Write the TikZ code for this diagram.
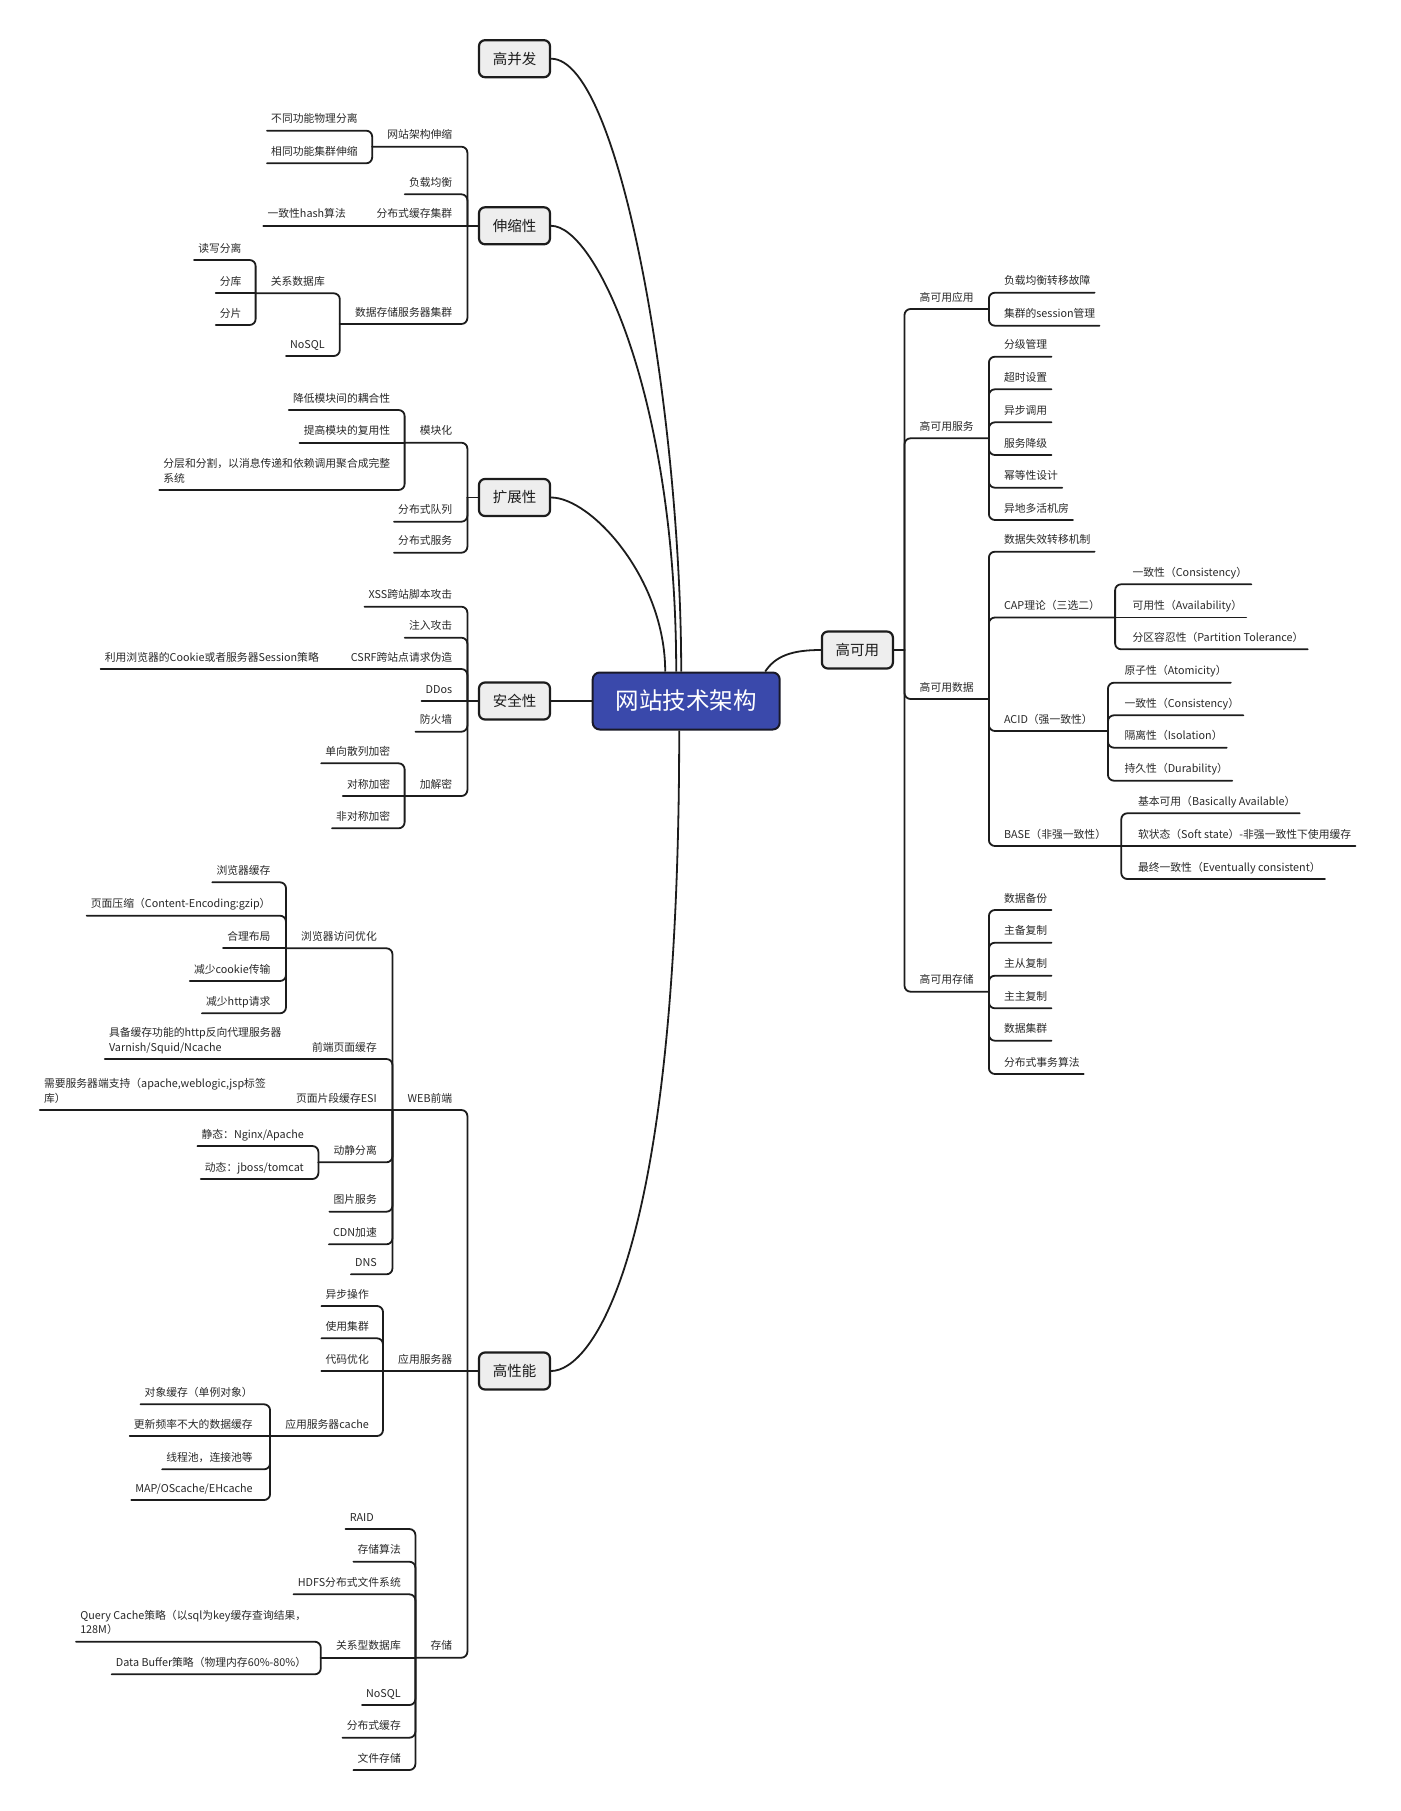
\documentclass[tikz,border=0pt]{standalone}
\usepackage{fontspec}
\setmainfont{Noto Sans CJK SC}

\definecolor{rootblue}{RGB}{58,73,171}
\definecolor{rootline}{RGB}{25,25,40}
\definecolor{topicgray}{RGB}{238,238,238}
\definecolor{inkline}{RGB}{28,28,28}
\definecolor{textgray}{RGB}{40,40,40}

\newcommand\leaffont{\fontsize{10.8}{14.5}\selectfont}

\tikzset{
  root/.style={draw=rootline, line width=2pt, fill=rootblue, text=white, rounded corners=7pt,
    minimum width=187pt, minimum height=57pt, font=\fontsize{23.5}{28}\selectfont},
  topic/.style={draw=inkline, line width=2.2pt, fill=topicgray, rounded corners=6pt,
    minimum width=71pt, minimum height=37pt, text=inkline, font=\fontsize{14.5}{17}\selectfont},
  txt/.style={inner ysep=7.6pt, text depth=0pt, text=textgray, font=\leaffont},
  leafL/.style={txt, anchor=south east, xshift=-11pt, inner xsep=4pt},
  subL/.style={txt, anchor=south east, inner xsep=15pt},
  leafR/.style={txt, anchor=south west, xshift=11pt, inner xsep=4pt},
  subR/.style={txt, anchor=south west, inner xsep=15pt},
  link/.style={draw=inkline, line width=1.8pt, rounded corners=6pt, line cap=round},
  curve/.style={draw=inkline, line width=1.8pt}
}

\begin{document}
\begin{tikzpicture}[x=1pt,y=-1pt]
\useasboundingbox (0,0) rectangle (1400,1811);

% centre and main topics
\node[root] (root) at (686.2,701) {网站技术架构};
\node[topic] (gbf) at (514.5,58.7) {高并发};
\node[topic] (ssx) at (514.5,225.8) {伸缩性};
\node[topic] (kzx) at (514.5,497.5) {扩展性};
\node[topic] (aqx) at (514.5,701) {安全性};
\node[topic] (gxn) at (514.5,1371) {高性能};
\node[topic] (gky) at (857.4,650) {高可用};

\draw[curve] (gbf.east) .. controls +(70,0) and +(0,-253) .. ([xshift=-5pt]root.north);
\draw[curve] (ssx.east) .. controls +(45,0) and +(0,-273) .. ([xshift=-10pt]root.north);
\draw[curve] (kzx.east) .. controls +(40,0) and +(0,-93) .. ([xshift=-21pt]root.north);
\draw[curve] (aqx.east) -- (root.west);
\draw[curve] (gxn.east) .. controls +(40,0) and +(0,529) .. ([xshift=-7pt]root.south);
\draw[curve] ([xshift=79pt]root.north) .. controls +(10,-15) and +(-30,0) .. (gky.west);

\coordinate (ssxJ) at (467.4,225.8);
\coordinate (kzxJ) at (467.4,497.5);
\coordinate (aqxJ) at (467.4,701);
\coordinate (gxnJ) at (467.4,1371);
\coordinate (gkyJ) at (904.5,650);
\draw[link] (ssx.west) -- (ssxJ);
\draw[link] (kzx.west) -- (kzxJ);
\draw[link] (aqx.west) -- (aqxJ);
\draw[link] (gxn.west) -- (gxnJ);
\draw[link] (gky.east) -- (gkyJ);

% 伸缩性
\node[subL] (wzjg) at (467.4,146.7) {网站架构伸缩};
\node[leafL] (fzjh) at (467.4,194.3) {负载均衡};
\node[subL] (fbhc) at (467.4,225.8) {分布式缓存集群};
\node[subL] (sjcc) at (467.4,324) {数据存储服务器集群};
\node[leafL] (btgn) at (372.8,130.7) {不同功能物理分离};
\node[leafL] (xtgn) at (372.8,163.3) {相同功能集群伸缩};
\node[leafL] (hash) at (361,225.8) {一致性hash算法};
\node[subL] (gxsjk) at (340,293.3) {关系数据库};
\node[leafL] (nosqlA) at (340,356) {NoSQL};
\node[leafL] (dxfl) at (256.7,260) {读写分离};
\node[leafL] (fk) at (256.7,293.3) {分库};
\node[leafL] (fp) at (256.7,325) {分片};
\draw[link] (ssxJ) |- (wzjg.south west);
\draw[link] (ssxJ) |- (fzjh.south west);
\draw[link] (ssxJ) -- (fbhc.south west);
\draw[link] (ssxJ) |- (sjcc.south west);
\draw[link] (wzjg.south west) |- (btgn.south west);
\draw[link] (wzjg.south west) |- (xtgn.south west);
\draw[link] (fbhc.south west) -- (hash.south west);
\draw[link] (sjcc.south west) |- (gxsjk.south west);
\draw[link] (sjcc.south west) |- (nosqlA.south west);
\draw[link] (gxsjk.south west) |- (dxfl.south west);
\draw[link] (gxsjk.south west) -- (fk.south west);
\draw[link] (gxsjk.south west) |- (fp.south west);

% 扩展性
\node[subL] (mkh) at (467.4,442.7) {模块化};
\node[leafL] (fbdl) at (467.4,521.7) {分布式队列};
\node[leafL] (fbfw) at (467.4,552.7) {分布式服务};
\node[leafL] (jdoh) at (405.4,410) {降低模块间的耦合性};
\node[leafL] (tgfy) at (405.4,442.7) {提高模块的复用性};
\node[leafL, align=left] (fcfg) at (405.4,490) {分层和分割，以消息传递和依赖调用聚合成完整\\系统};
\draw[link] (kzxJ) |- (mkh.south west);
\draw[link] (kzxJ) |- (fbdl.south west);
\draw[link] (kzxJ) |- (fbfw.south west);
\draw[link] (mkh.south west) |- (jdoh.south west);
\draw[link] (mkh.south west) -- (tgfy.south west);
\draw[link] (mkh.south west) |- (fcfg.south west);

% 安全性
\node[leafL] (xss) at (467.4,606.7) {XSS跨站脚本攻击};
\node[leafL] (zrgj) at (467.4,637.7) {注入攻击};
\node[subL] (csrf) at (467.4,669) {CSRF跨站点请求伪造};
\node[leafL] (ddos) at (467.4,701) {DDos};
\node[leafL] (fhq) at (467.4,731.7) {防火墙};
\node[subL] (jjm) at (467.4,796) {加解密};
\node[leafL] (cookie) at (334,669) {利用浏览器的Cookie或者服务器Session策略};
\node[leafL] (dxsl) at (405.4,763.3) {单向散列加密};
\node[leafL] (dcjm) at (405.4,796) {对称加密};
\node[leafL] (fdcjm) at (405.4,828.3) {非对称加密};
\draw[link] (aqxJ) |- (xss.south west);
\draw[link] (aqxJ) |- (zrgj.south west);
\draw[link] (aqxJ) |- (csrf.south west);
\draw[link] (aqxJ) -- (ddos.south west);
\draw[link] (aqxJ) |- (fhq.south west);
\draw[link] (aqxJ) |- (jjm.south west);
\draw[link] (csrf.south west) -- (cookie.south west);
\draw[link] (jjm.south west) |- (dxsl.south west);
\draw[link] (jjm.south west) -- (dcjm.south west);
\draw[link] (jjm.south west) |- (fdcjm.south west);

% 高性能
\node[subL] (web) at (467.4,1110) {WEB前端};
\node[subL] (yyfwq) at (467.4,1371) {应用服务器};
\node[subL] (cc) at (467.4,1657.7) {存储};
\draw[link] (gxnJ) |- (web.south west);
\draw[link] (gxnJ) -- (yyfwq.south west);
\draw[link] (gxnJ) |- (cc.south west);

\node[subL] (llqfw) at (392,948.3) {浏览器访问优化};
\node[subL] (qdym) at (392,1059) {前端页面缓存};
\node[subL] (esi) at (392,1110) {页面片段缓存ESI};
\node[subL] (djfl) at (392,1162.3) {动静分离};
\node[leafL] (tpfw) at (392,1211.7) {图片服务};
\node[leafL] (cdn) at (392,1244.3) {CDN加速};
\node[leafL] (dns) at (392,1274.3) {DNS};
\draw[link] (web.south west) |- (llqfw.south west);
\draw[link] (web.south west) |- (qdym.south west);
\draw[link] (web.south west) -- (esi.south west);
\draw[link] (web.south west) |- (djfl.south west);
\draw[link] (web.south west) |- (tpfw.south west);
\draw[link] (web.south west) |- (cdn.south west);
\draw[link] (web.south west) |- (dns.south west);

\node[leafL] (llqhc) at (285.7,882.3) {浏览器缓存};
\node[leafL] (ymys) at (285.7,915.7) {页面压缩（Content-Encoding:gzip）};
\node[leafL] (hlbj) at (285.7,948.3) {合理布局};
\node[leafL] (jscookie) at (285.7,981) {减少cookie传输};
\node[leafL] (jshttp) at (285.7,1013.3) {减少http请求};
\draw[link] (llqfw.south west) |- (llqhc.south west);
\draw[link] (llqfw.south west) |- (ymys.south west);
\draw[link] (llqfw.south west) -- (hlbj.south west);
\draw[link] (llqfw.south west) |- (jscookie.south west);
\draw[link] (llqfw.south west) |- (jshttp.south west);

\node[leafL, align=left] (varnish) at (296.6,1059) {具备缓存功能的http反向代理服务器\\Varnish/Squid/Ncache};
\node[leafL, align=left] (fwqzc) at (281,1110) {需要服务器端支持（apache,weblogic,jsp标签\\库）};
\node[leafL] (jt) at (319,1146) {静态：Nginx/Apache};
\node[leafL] (dt) at (319,1179) {动态：jboss/tomcat};
\draw[link] (qdym.south west) -- (varnish.south west);
\draw[link] (esi.south west) -- (fwqzc.south west);
\draw[link] (djfl.south west) |- (jt.south west);
\draw[link] (djfl.south west) |- (dt.south west);

\node[leafL] (ybcz) at (384,1306) {异步操作};
\node[leafL] (syjq) at (384,1338.3) {使用集群};
\node[leafL] (dmyh) at (384,1371) {代码优化};
\node[subL] (yycache) at (384,1436) {应用服务器cache};
\draw[link] (yyfwq.south west) |- (ybcz.south west);
\draw[link] (yyfwq.south west) |- (syjq.south west);
\draw[link] (yyfwq.south west) -- (dmyh.south west);
\draw[link] (yyfwq.south west) |- (yycache.south west);

\node[leafL] (dxhc) at (267.9,1404.3) {对象缓存（单例对象）};
\node[leafL] (gxpl) at (267.9,1436) {更新频率不大的数据缓存};
\node[leafL] (xcc) at (267.9,1469.3) {线程池，连接池等};
\node[leafL] (mapc) at (267.9,1500) {MAP/OScache/EHcache};
\draw[link] (yycache.south west) |- (dxhc.south west);
\draw[link] (yycache.south west) -- (gxpl.south west);
\draw[link] (yycache.south west) |- (xcc.south west);
\draw[link] (yycache.south west) |- (mapc.south west);

\node[leafL] (raid) at (389,1529) {RAID};
\node[leafL] (ccsf) at (416,1561.7) {存储算法};
\node[leafL] (hdfs) at (416,1594.3) {HDFS分布式文件系统};
\node[subL] (gxxsjk) at (416,1657.7) {关系型数据库};
\node[leafL] (nosqlB) at (416,1705) {NoSQL};
\node[leafL] (fbshc) at (416,1737.7) {分布式缓存};
\node[leafL] (wjcc) at (416,1770) {文件存储};
\draw[link] (cc.south west) |- (raid.south west);
\draw[link] (cc.south west) |- (ccsf.south west);
\draw[link] (cc.south west) |- (hdfs.south west);
\draw[link] (cc.south west) -- (gxxsjk.south west);
\draw[link] (cc.south west) |- (nosqlB.south west);
\draw[link] (cc.south west) |- (fbshc.south west);
\draw[link] (cc.south west) |- (wjcc.south west);

\node[leafL, align=left] (qcache) at (321.4,1641.7) {Query Cache策略（以sql为key缓存查询结果，\\128M）};
\node[leafL] (dbuf) at (321.4,1674.3) {Data Buffer策略（物理内存60\%-80\%）};
\draw[link] (gxxsjk.south west) |- (qcache.south west);
\draw[link] (gxxsjk.south west) |- (dbuf.south west);

% 高可用
\node[subR] (gkyyy) at (904.5,309) {高可用应用};
\node[subR] (gkyfw) at (904.5,438.3) {高可用服务};
\node[subR] (gkysj) at (904.5,699) {高可用数据};
\node[subR] (gkycc) at (904.5,991.7) {高可用存储};
\draw[link] (gkyJ) |- (gkyyy.south east);
\draw[link] (gkyJ) |- (gkyfw.south east);
\draw[link] (gkyJ) |- (gkysj.south east);
\draw[link] (gkyJ) |- (gkycc.south east);

\node[leafR] (fzzy) at (988.8,292.7) {负载均衡转移故障};
\node[leafR] (session) at (988.8,325.7) {集群的session管理};
\draw[link] (gkyyy.south east) |- (fzzy.south east);
\draw[link] (gkyyy.south east) |- (session.south east);

\node[leafR] (fjgl) at (988.8,356.7) {分级管理};
\node[leafR] (cssz) at (988.8,389.3) {超时设置};
\node[leafR] (ybdy) at (988.8,422.3) {异步调用};
\node[leafR] (fwjj) at (988.8,455) {服务降级};
\node[leafR] (mdx) at (988.8,487.7) {幂等性设计};
\node[leafR] (ydhj) at (988.8,520) {异地多活机房};
\foreach \n in {fjgl,cssz,ybdy,fwjj,mdx,ydhj}
  \draw[link] (gkyfw.south east) |- (\n.south east);

\node[leafR] (sjsx) at (988.8,551.7) {数据失效转移机制};
\node[subR] (cap) at (988.8,617.5) {CAP理论（三选二）};
\node[subR] (acid) at (988.8,731) {ACID（强一致性）};
\node[subR] (base) at (988.8,846) {BASE（非强一致性）};
\foreach \n in {sjsx,cap,acid,base}
  \draw[link] (gkysj.south east) |- (\n.south east);

\node[leafR] (capC) at (1117.4,584.3) {一致性（Consistency）};
\node[leafR] (capA) at (1117.4,617.5) {可用性（Availability）};
\node[leafR] (capP) at (1117.4,649.3) {分区容忍性（Partition Tolerance）};
\draw[link] (cap.south east) |- (capC.south east);
\draw[link] (cap.south east) -- (capA.south east);
\draw[link] (cap.south east) |- (capP.south east);

\node[leafR] (acA) at (1109.4,682.7) {原子性（Atomicity）};
\node[leafR] (acC) at (1109.4,715.3) {一致性（Consistency）};
\node[leafR] (acI) at (1109.4,747.7) {隔离性（Isolation）};
\node[leafR] (acD) at (1109.4,780.7) {持久性（Durability）};
\foreach \n in {acA,acC,acI,acD}
  \draw[link] (acid.south east) |- (\n.south east);

\node[leafR] (baB) at (1122.8,813.3) {基本可用（Basically Available）};
\node[leafR] (baS) at (1122.8,846) {软状态（Soft state）-非强一致性下使用缓存};
\node[leafR] (baE) at (1122.8,879) {最终一致性（Eventually consistent）};
\draw[link] (base.south east) |- (baB.south east);
\draw[link] (base.south east) -- (baS.south east);
\draw[link] (base.south east) |- (baE.south east);

\node[leafR] (sjbf) at (988.8,910) {数据备份};
\node[leafR] (zbfz) at (988.8,942.7) {主备复制};
\node[leafR] (zcfz) at (988.8,975.7) {主从复制};
\node[leafR] (zzfz) at (988.8,1008.3) {主主复制};
\node[leafR] (sjjq) at (988.8,1040.7) {数据集群};
\node[leafR] (fbsw) at (988.8,1074) {分布式事务算法};
\foreach \n in {sjbf,zbfz,zcfz,zzfz,sjjq,fbsw}
  \draw[link] (gkycc.south east) |- (\n.south east);
\end{tikzpicture}
\end{document}
